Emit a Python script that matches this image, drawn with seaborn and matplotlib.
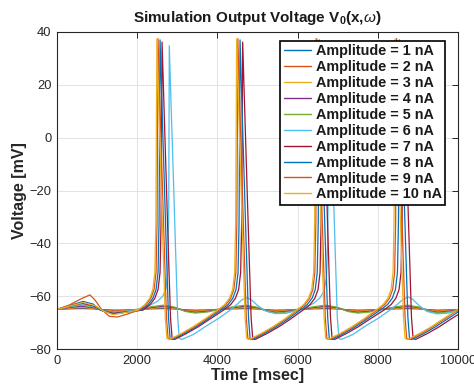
import matplotlib
matplotlib.use("Agg")
import matplotlib.pyplot as plt
import seaborn as sns
import pandas as pd

# ---------------- data ----------------
amplitudes = [1, 2, 3, 4, 5, 6, 7, 8, 9, 10]
labels = [f"Amplitude = {a} nA" for a in amplitudes]

# sub-threshold responses (amplitudes 1-5) share one time grid
t_sub = [0, 300, 600, 900, 1150, 1450, 1750, 2050, 2350, 2650, 2950, 3200, 3450, 3750,
         4050, 4400, 4700, 5000, 5250, 5450, 5750, 6050, 6400, 6700, 7000, 7250, 7500,
         7800, 8100, 8450, 8750, 9050, 9300, 9500, 9750, 10000]
v_amp1 = [-65, -64.8, -64.7, -64.8, -65.1, -65.3, -65.2, -65, -64.8, -64.7, -64.85, -65.15,
          -65.3, -65.2, -65, -64.8, -64.7, -64.85, -65.15, -65.3, -65.2, -65, -64.8, -64.7,
          -64.85, -65.15, -65.3, -65.2, -65, -64.8, -64.7, -64.85, -65.15, -65.3, -65.2, -65.1]
v_amp2 = [-65, -64.6, -64.4, -64.6, -65.2, -65.6, -65.4, -65, -64.6, -64.4, -64.7, -65.3,
          -65.5, -65.4, -65, -64.6, -64.4, -64.7, -65.3, -65.5, -65.4, -65, -64.6, -64.4,
          -64.7, -65.3, -65.5, -65.4, -65, -64.6, -64.4, -64.7, -65.3, -65.5, -65.4, -65.1]
v_amp3 = [-65, -64.5, -64.1, -64.5, -65.4, -65.9, -65.5, -65, -64.5, -64.1, -64.6, -65.5,
          -65.8, -65.5, -65, -64.5, -64.1, -64.6, -65.5, -65.8, -65.5, -65, -64.5, -64.1,
          -64.6, -65.5, -65.8, -65.5, -65, -64.5, -64.1, -64.6, -65.5, -65.8, -65.5, -65.2]
v_amp4 = [-65, -64.3, -63.8, -64.3, -65.5, -66.2, -65.7, -65, -64.3, -63.8, -64.4, -65.6,
          -66.1, -65.7, -65, -64.3, -63.8, -64.4, -65.6, -66.1, -65.7, -65, -64.3, -63.8,
          -64.4, -65.6, -66.1, -65.7, -65, -64.3, -63.8, -64.4, -65.6, -66.1, -65.7, -65.2]
v_amp5 = [-65, -64.0, -63.4, -64.0, -65.6, -66.6, -66.0, -65, -64.0, -63.4, -64.2, -65.8,
          -66.4, -66.0, -65, -64.0, -63.4, -64.2, -65.8, -66.4, -66.0, -65, -64.0, -63.4,
          -64.2, -65.8, -66.4, -66.0, -65, -64.0, -63.4, -64.2, -65.8, -66.4, -66.0, -65.3]

# spiking responses
t_amp6 = [0, 300, 600, 900, 1100, 1400, 1700, 2030, 2300, 2500, 2640, 2720, 2765, 2785, 2795, 2800,
          2840, 2900, 2960, 3010, 3050, 3110,
          3400, 3733, 4050, 4300, 4480, 4620, 4730, 4850, 5000, 5200, 5450, 5700, 6000, 6200,
          6400, 6560, 6660, 6720, 6750, 6768, 6780,
          6820, 6880, 6940, 6990, 7030, 7090,
          7380, 7700, 8030, 8280, 8480, 8630, 8760, 8880, 9030, 9230, 9480, 9750, 10000]
v_amp6 = [-65, -64, -63.2, -63.9, -65.2, -66.2, -65.8, -65, -63.6, -62, -60, -57, -50, -30, 8, 34.8,
          15, -14, -44, -68, -76, -76.4,
          -74.5, -71.2, -68.2, -65.5, -63.2, -61.3, -60.6, -61.4, -63.5, -65.6, -66.6, -66.5, -65.4, -64.3,
          -62.7, -60.6, -58, -53, -40, -10, 34.8,
          15, -14, -44, -68, -76, -76.4,
          -74.5, -71.2, -68.2, -65.5, -63.2, -61.2, -60.3, -61.3, -63.6, -65.8, -66.7, -66.4, -65.7]

t_amp7 = [0, 300, 620, 900, 1100, 1400, 1700, 2140, 2320, 2440, 2520, 2570, 2595, 2610, 2620,
          2660, 2720, 2780, 2830, 2870, 2930, 3220, 3520, 3820,
          4150, 4330, 4450, 4530, 4580, 4605, 4620, 4630,
          4670, 4730, 4790, 4840, 4880, 4940, 5230, 5530, 5830,
          6130, 6310, 6430, 6510, 6560, 6585, 6600, 6610,
          6650, 6710, 6770, 6820, 6860, 6920, 7210, 7510, 7810,
          8150, 8330, 8450, 8530, 8580, 8605, 8620, 8630,
          8670, 8730, 8790, 8840, 8880, 8940, 9230, 9530, 9830, 10000]
v_amp7 = [-65, -63.8, -62.7, -63.6, -65.3, -66.5, -66, -65.3, -63.2, -60.8, -57.5, -51, -32, 8, 36.2,
          16, -14, -44, -68, -76, -76.4, -74.2, -71.6, -68.6,
          -65.3, -63.2, -60.8, -57.5, -51, -32, 8, 36.2,
          16, -14, -44, -68, -76, -76.4, -74.2, -71.6, -68.6,
          -65.3, -63.2, -60.8, -57.5, -51, -32, 8, 36.2,
          16, -14, -44, -68, -76, -76.4, -74.2, -71.6, -68.6,
          -65.3, -63.2, -60.8, -57.5, -51, -32, 8, 36.2,
          16, -14, -44, -68, -76, -76.4, -74.2, -71.6, -68.6, -67]

t_amp8 = [0, 300, 650, 900, 1100, 1400, 1700, 2090, 2270, 2390, 2470, 2520, 2545, 2560, 2570,
          2610, 2670, 2730, 2780, 2820, 2880, 3170, 3470, 3770,
          4085, 4265, 4385, 4465, 4515, 4540, 4555, 4565,
          4605, 4665, 4725, 4775, 4815, 4875, 5165, 5465, 5765,
          6060, 6240, 6360, 6440, 6490, 6515, 6530, 6540,
          6580, 6640, 6700, 6750, 6790, 6850, 7140, 7440, 7740,
          8060, 8240, 8360, 8440, 8490, 8515, 8530, 8540,
          8580, 8640, 8700, 8750, 8790, 8850, 9140, 9440, 9740, 10000]
v_amp8 = [-65, -63.6, -62, -63, -65.4, -66.8, -66.1, -65.3, -63.2, -60.8, -57.5, -51, -32, 8, 37,
          16, -14, -44, -68, -76, -76.4, -74.2, -71.6, -68.6,
          -65.3, -63.2, -60.8, -57.5, -51, -32, 8, 37,
          16, -14, -44, -68, -76, -76.4, -74.2, -71.6, -68.6,
          -65.3, -63.2, -60.8, -57.5, -51, -32, 8, 37,
          16, -14, -44, -68, -76, -76.4, -74.2, -71.6, -68.6,
          -65.3, -63.2, -60.8, -57.5, -51, -32, 8, 37,
          16, -14, -44, -68, -76, -76.4, -74.2, -71.6, -68.6, -66]

t_amp9 = [0, 300, 600, 820, 950, 1100, 1300, 1500, 1750, 2040, 2220, 2340, 2420, 2470, 2495, 2510, 2520,
          2560, 2620, 2680, 2730, 2770, 2830, 3120, 3420, 3720,
          4030, 4210, 4330, 4410, 4460, 4485, 4500, 4510,
          4550, 4610, 4670, 4720, 4760, 4820, 5110, 5410, 5710,
          6000, 6180, 6300, 6380, 6430, 6455, 6470, 6480,
          6520, 6580, 6640, 6690, 6730, 6790, 7080, 7380, 7680,
          7990, 8170, 8290, 8370, 8420, 8445, 8460, 8470,
          8510, 8570, 8630, 8680, 8720, 8780, 9070, 9370, 9670, 10000]
v_amp9 = [-65, -63.4, -61, -59.5, -61.5, -64.8, -67.6, -67.9, -66.8, -65.3, -63.2, -60.8, -57.5, -51, -32, 8, 37.5,
          16, -14, -44, -68, -76, -76.4, -74.2, -71.6, -68.6,
          -65.3, -63.2, -60.8, -57.5, -51, -32, 8, 37.5,
          16, -14, -44, -68, -76, -76.4, -74.2, -71.6, -68.6,
          -65.3, -63.2, -60.8, -57.5, -51, -32, 8, 37.5,
          16, -14, -44, -68, -76, -76.4, -74.2, -71.6, -68.6,
          -65.3, -63.2, -60.8, -57.5, -51, -32, 8, 37.5,
          16, -14, -44, -68, -76, -76.4, -74.2, -71.6, -68.6, -65.2]

t_amp10 = [0, 300, 650, 950, 1150, 1400, 1700, 2010, 2190, 2310, 2390, 2440, 2465, 2480, 2490,
           2530, 2590, 2650, 2700, 2740, 2800, 3090, 3390, 3690,
           4000, 4180, 4300, 4380, 4430, 4455, 4470, 4480,
           4520, 4580, 4640, 4690, 4730, 4790, 5080, 5380, 5680,
           5970, 6150, 6270, 6350, 6400, 6425, 6440, 6450,
           6490, 6550, 6610, 6660, 6700, 6760, 7050, 7350, 7650,
           7950, 8130, 8250, 8330, 8380, 8405, 8420, 8430,
           8470, 8530, 8590, 8640, 8680, 8740, 9030, 9330, 9630, 10000]
v_amp10 = [-65, -63.8, -62.4, -63.6, -65.6, -67, -66.2, -65.3, -63.2, -60.8, -57.5, -51, -32, 8, 37.4,
           16, -14, -44, -68, -76, -76.4, -74.2, -71.6, -68.6,
           -65.3, -63.2, -60.8, -57.5, -51, -32, 8, 37.4,
           16, -14, -44, -68, -76, -76.4, -74.2, -71.6, -68.6,
           -65.3, -63.2, -60.8, -57.5, -51, -32, 8, 37.4,
           16, -14, -44, -68, -76, -76.4, -74.2, -71.6, -68.6,
           -65.3, -63.2, -60.8, -57.5, -51, -32, 8, 37.4,
           16, -14, -44, -68, -76, -76.4, -74.2, -71.6, -68.6, -65]

x_ticks = [0, 2000, 4000, 6000, 8000, 10000]
y_ticks = [-80, -60, -40, -20, 0, 20, 40]

matlab = ['#0072BD', '#D95319', '#EDB120', '#7E2F8E', '#77AC30', '#4DBEEE', '#A2142F']
palette = matlab + matlab[:3]

# ---------------- long-form table ----------------
series = [(t_sub, v_amp1), (t_sub, v_amp2), (t_sub, v_amp3), (t_sub, v_amp4), (t_sub, v_amp5),
          (t_amp6, v_amp6), (t_amp7, v_amp7), (t_amp8, v_amp8), (t_amp9, v_amp9), (t_amp10, v_amp10)]
frames = []
for lab, (tt, vv) in zip(labels, series):
    frames.append(pd.DataFrame({"Time": tt, "Voltage": vv, "Series": lab}))
df = pd.concat(frames, ignore_index=True)

# ---------------- style ----------------
sns.set_style("white")
plt.rcParams['font.family'] = ['Liberation Sans', 'DejaVu Sans']
plt.rcParams['mathtext.fontset'] = 'custom'
plt.rcParams['mathtext.rm'] = 'Liberation Sans:bold'
plt.rcParams['mathtext.bf'] = 'Liberation Sans:bold'
plt.rcParams['mathtext.it'] = 'Liberation Sans:italic'

fig = plt.figure(figsize=(4.74, 3.89), dpi=100)
ax = fig.add_axes([57 / 474, 1 - 349 / 389, 401 / 474, 317 / 389])

sns.lineplot(data=df, x="Time", y="Voltage", hue="Series", hue_order=labels,
             palette=palette, estimator=None, sort=False, linewidth=0.9, ax=ax)

ax.set_xlim(0, 10000)
ax.set_ylim(-80, 40)
ax.set_xticks(x_ticks)
ax.set_yticks(y_ticks)
ax.grid(True, color='#e3e3e3', linewidth=0.7)
ax.set_axisbelow(True)
for sp in ax.spines.values():
    sp.set_visible(True)
    sp.set_color('#262626')
    sp.set_linewidth(0.8)
ax.tick_params(direction='in', length=4, width=0.7, top=True, right=True,
               labelsize=9.3, colors='#262626', labelcolor='#262626', pad=4)

ax.set_xlabel("Time [msec]", fontsize=11.5, fontweight='bold', color='#262626', labelpad=1)
ax.set_ylabel("Voltage [mV]", fontsize=11.5, fontweight='bold', color='#262626', labelpad=2)
ax.set_title(r"Simulation Output Voltage V$_0$(x,$\omega$)", fontsize=11, fontweight='bold',
             color='#1a1a1a', pad=7)

old = ax.get_legend()
handles = old.legend_handles
texts = [t.get_text() for t in old.get_texts()]
old.remove()
for h in handles:
    h.set_linewidth(1.0)
leg = ax.legend(handles, texts, loc='upper right', bbox_to_anchor=(0.968, 0.972),
                borderaxespad=0, fancybox=False, framealpha=1, edgecolor='black',
                prop={'weight': 'bold', 'size': 10.4}, handlelength=1.9, handletextpad=0.3,
                labelspacing=0.13, borderpad=0.25)
leg.get_frame().set_linewidth(1.2)
for t in leg.get_texts():
    t.set_color('#1a1a1a')

fig.savefig("out.png", dpi=100)
